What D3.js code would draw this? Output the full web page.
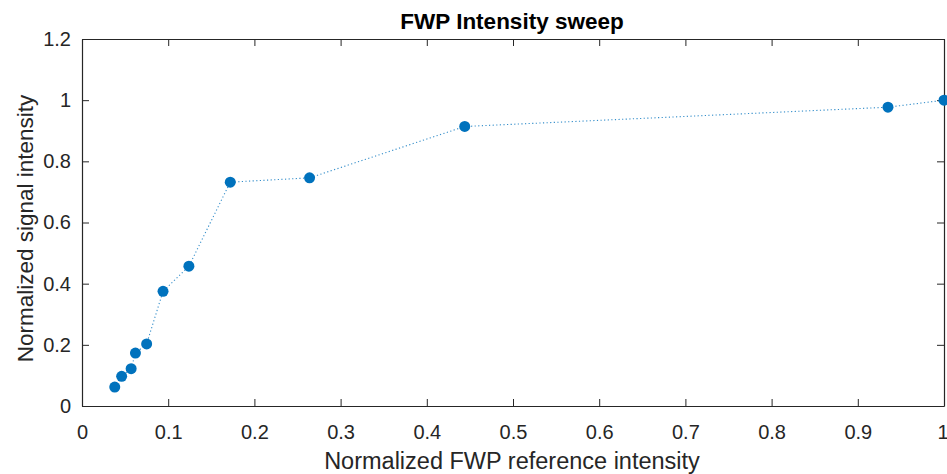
<!DOCTYPE html>
<html><head><meta charset="utf-8">
<script src="https://cdn.jsdelivr.net/npm/d3@7"></script>
<style>body{margin:0;background:#fff}svg{display:block}text{font-family:Arial,"Liberation Sans",sans-serif}</style>
</head><body><svg id="c" width="947" height="474"></svg>
<script>
const xValues=[0.038,0.046,0.057,0.062,0.075,0.094,0.124,0.172,0.264,0.444,0.935,1.0];
const yValues=[0.062,0.097,0.122,0.173,0.203,0.375,0.457,0.732,0.746,0.914,0.977,1.0];
const xTicks=[0,0.1,0.2,0.3,0.4,0.5,0.6,0.7,0.8,0.9,1];
const yTicks=[0,0.2,0.4,0.6,0.8,1,1.2];
const title="FWP Intensity sweep", xLabel="Normalized FWP reference intensity", yLabel="Normalized signal intensity";

const svg=d3.select("#c");
const L=82,R=944,T=39,B=406;
const x=d3.scaleLinear().domain([0,1]).range([L,R]);
const y=d3.scaleLinear().domain([0,1.2]).range([B,T]);
const ax="#262626";
const fmt=d=>d===0?"0":(d===1?"1":String(d));
const g=svg.append("g");
const xb=g.append("g").attr("transform",`translate(0,${B})`).call(d3.axisBottom(x).tickValues(xTicks).tickFormat(fmt).tickSizeInner(-7).tickSizeOuter(0).tickPadding(19));
const xt=g.append("g").attr("transform",`translate(0,${T})`).call(d3.axisTop(x).tickValues(xTicks).tickFormat("").tickSizeInner(-7).tickSizeOuter(0));
const yl=g.append("g").attr("transform",`translate(${L},0)`).call(d3.axisLeft(y).tickValues(yTicks).tickFormat(fmt).tickSizeInner(-7).tickSizeOuter(0).tickPadding(11));
const yr=g.append("g").attr("transform",`translate(${R},0)`).call(d3.axisRight(y).tickValues(yTicks).tickFormat("").tickSizeInner(-7).tickSizeOuter(0));
[xb,xt,yl,yr].forEach(a=>{a.selectAll("path").attr("stroke",ax).attr("stroke-width",1.2);a.selectAll("line").attr("stroke",ax);a.selectAll("text").attr("fill",ax).style("font-size","20px").style("font-family","Arial, 'Liberation Sans', sans-serif");});
xb.selectAll(".tick text").filter(d=>d===1).attr("text-anchor","end").attr("dx","4");
const data=xValues.map((v,i)=>[v,yValues[i]]);
svg.append("path").datum(data).attr("fill","none").attr("stroke","#0072BD").attr("stroke-opacity",0.8).attr("stroke-width",1.1).attr("stroke-dasharray","1.2,2.4")
 .attr("d",d3.line().x(d=>x(d[0])).y(d=>y(d[1])));
svg.append("g").selectAll("circle").data(data).join("circle").attr("cx",d=>x(d[0])).attr("cy",d=>y(d[1])).attr("r",5.5).attr("fill","#0072BD");
svg.append("text").attr("x",512).attr("y",29).attr("text-anchor","middle").attr("font-weight","bold").attr("font-size","22.5px").attr("fill","#000").text(title);
svg.append("text").attr("x",512).attr("y",469).attr("text-anchor","middle").attr("font-size","23.5px").attr("fill",ax).text(xLabel);
svg.append("text").attr("transform",`translate(33,${(T+B)/2+6}) rotate(-90)`).attr("text-anchor","middle").attr("font-size","22.5px").attr("fill",ax).text(yLabel);
</script></body></html>
